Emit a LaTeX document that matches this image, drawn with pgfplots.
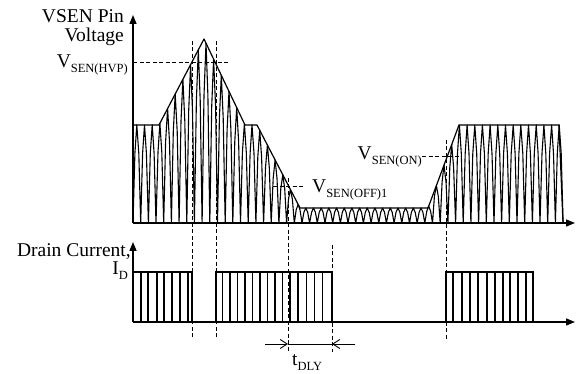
\documentclass[border=0pt]{standalone}
\usepackage{pgfplots}
\pgfplotsset{compat=1.18}
\usepackage{fontspec}
\setmainfont{Liberation Serif}
\usetikzlibrary{arrows.meta}
\newcommand{\sub}[1]{\raisebox{-4.5pt}{\fontsize{12.5}{13}\selectfont #1}}
\newcommand{\fsz}{\fontsize{19.5}{21}\selectfont}
\begin{document}
\begin{tikzpicture}
\begin{axis}[scale only axis, width=576pt, height=374pt,
  xmin=0, xmax=576, ymin=-151, ymax=223, hide axis, clip=false]
% rectified switching waveform (VSEN)
\addplot[black, line width=1.1pt, line join=round] coordinates {
(133.0,0)(134.9,69.6)(136.8,98)(138.8,69.6)
(140.7,0)(142.6,69.6)(144.5,98)(146.4,69.6)
(148.4,0)(150.3,69.6)(152.2,98)(154.1,69.6)
(156.0,0)(158.0,70.8)(159.9,99.7)(161.8,70.8)
(163.7,0)(165.6,81.2)(167.6,114.4)(169.5,81.2)
(171.4,0)(173.3,91.6)(175.2,129.0)(177.2,91.6)
(179.1,0)(181.0,102.0)(182.9,143.7)(184.8,102.0)
(186.8,0)(188.7,112.5)(190.6,158.4)(192.5,112.5)
(194.4,0)(196.4,122.9)(198.3,173.1)(200.2,122.9)
(202.1,0)(204.0,127.7)(206.0,179.9)(207.9,127.7)
(209.8,0)(211.7,116.3)(213.6,163.8)(215.6,116.3)
(217.5,0)(219.4,104.9)(221.3,147.7)(223.2,104.9)
(225.2,0)(227.1,93.4)(229.0,131.6)(230.9,93.4)
(232.8,0)(234.8,81.9)(236.7,115.4)(238.6,81.9)
(240.5,0)(242.4,70.5)(244.4,99.3)(246.3,70.5)
(248.2,0)(250.1,69.6)(252.0,98)(254.0,69.6)
(255.9,0)(257.8,65.9)(259.7,92.8)(261.6,65.9)
(263.6,0)(265.5,55.3)(267.4,77.9)(269.3,55.3)
(271.2,0)(273.2,44.8)(275.1,63.1)(277.0,44.8)
(278.9,0)(280.8,34.3)(282.8,48.3)(284.7,34.3)
(286.6,0)(288.5,23.8)(290.4,33.5)(292.4,23.8)
(294.3,0)(296.2,13.2)(298.1,18.6)(300.0,13.2)
(302.0,0)(303.9,10.7)(305.8,15)(307.7,10.7)
(309.6,0)(311.6,10.7)(313.5,15)(315.4,10.7)
(317.3,0)(319.2,10.7)(321.2,15)(323.1,10.7)
(325.0,0)(326.9,10.7)(328.8,15)(330.8,10.7)
(332.7,0)(334.6,10.7)(336.5,15)(338.4,10.7)
(340.4,0)(342.3,10.7)(344.2,15)(346.1,10.7)
(348.0,0)(350.0,10.7)(351.9,15)(353.8,10.7)
(355.7,0)(357.6,10.7)(359.6,15)(361.5,10.7)
(363.4,0)(365.3,10.7)(367.2,15)(369.2,10.7)
(371.1,0)(373.0,10.7)(374.9,15)(376.8,10.7)
(378.8,0)(380.7,10.7)(382.6,15)(384.5,10.7)
(386.4,0)(388.4,10.7)(390.3,15)(392.2,10.7)
(394.1,0)(396.0,10.7)(398.0,15)(399.9,10.7)
(401.8,0)(403.7,10.7)(405.6,15)(407.6,10.7)
(409.5,0)(411.4,10.7)(413.3,15)(415.2,10.7)
(417.2,0)(419.1,10.7)(421.0,15)(422.9,10.7)
(424.8,0)(426.8,11.9)(428.7,16.8)(430.6,11.9)
(432.5,0)(434.4,26.6)(436.4,37.4)(438.3,26.6)
(440.2,0)(442.1,41.1)(444.0,57.9)(446.0,41.1)
(447.9,0)(449.8,55.7)(451.7,78.5)(453.6,55.7)
(455.6,0)(457.5,69.6)(459.4,98)(461.3,69.6)
(463.2,0)(465.2,69.6)(467.1,98)(469.0,69.6)
(470.9,0)(472.8,69.6)(474.8,98)(476.7,69.6)
(478.6,0)(480.5,69.6)(482.4,98)(484.4,69.6)
(486.3,0)(488.2,69.6)(490.1,98)(492.0,69.6)
(494.0,0)(495.9,69.6)(497.8,98)(499.7,69.6)
(501.6,0)(503.6,69.6)(505.5,98)(507.4,69.6)
(509.3,0)(511.2,69.6)(513.2,98)(515.1,69.6)
(517.0,0)(518.9,69.6)(520.8,98)(522.8,69.6)
(524.7,0)(526.6,69.6)(528.5,98)(530.4,69.6)
(532.4,0)(534.3,69.6)(536.2,98)(538.1,69.6)
(540.0,0)(542.0,69.6)(543.9,98)(545.8,69.6)
(547.7,0)(549.6,69.6)(551.6,98)(553.5,69.6)
(555.4,0)(557.3,69.6)(559.2,98)(561.2,69.6)(563.1,0)
};
% envelope
\addplot[black, line width=1.2pt, line join=round] coordinates {
(133,98)(159,98)(204,184)(245,98)(257,98)(300,15)(428,15)(459,98)(559,98)(563,0)};
% axes of top panel
\addplot[black, line width=1.4pt, -{Triangle[length=9pt,width=7pt]}] coordinates {(133,0)(575,0)};
\addplot[black, line width=1.4pt, -{Triangle[length=9pt,width=7pt]}] coordinates {(133,0)(133,208)};
% axes of bottom panel
\addplot[black, line width=1.4pt, -{Triangle[length=9pt,width=7pt]}] coordinates {(133,-99)(575,-99)};
\addplot[black, line width=1.4pt, -{Triangle[length=9pt,width=7pt]}] coordinates {(133,-99)(133,-19)};
% drain current pulse blocks: outlines
\addplot[black, line width=1.4pt] coordinates {(133,-99)(133,-49)(192,-49)(192,-99)};
\addplot[black, line width=1.4pt] coordinates {(216,-99)(216,-49)(332,-49)(332,-99)};
\addplot[black, line width=1.4pt] coordinates {(446,-99)(446,-49)(533,-49)(533,-99)};
% switching edges inside the blocks
\addplot[black, line width=1.2pt] coordinates {
(141,-99)(141,-49)(148,-49)(148,-99)(157,-99)(157,-49)(164,-49)(164,-99)
(172,-99)(172,-49)(180,-49)(180,-99)(188,-99)(188,-49)};
\addplot[black, line width=1.2pt] coordinates {
(222.7,-99)(222.7,-49)(230,-49)(230,-99)(237.3,-99)(237.3,-49)(245,-49)(245,-99)
(252.3,-99)(252.3,-49)(260,-49)(260,-99)(267.7,-99)(267.7,-49)(275,-49)(275,-99)
(282.7,-99)(282.7,-49)(290,-49)(290,-99)(298,-99)(298,-49)(306.7,-49)(306.7,-99)
(314.3,-99)(314.3,-49)(322.3,-49)(322.3,-99)};
\addplot[black, line width=1.2pt] coordinates {
(453,-99)(453,-49)(462,-49)(462,-99)(470,-99)(470,-49)(478,-49)(478,-99)
(487,-99)(487,-49)(495,-49)(495,-99)(503,-99)(503,-49)(510,-49)(510,-99)
(518,-99)(518,-49)(526,-49)(526,-99)};
% dashed guide lines
\addplot[black, line width=1pt, dash pattern=on 4pt off 2.5pt] coordinates {(133,160)(228,160)};
\addplot[black, line width=1pt, dash pattern=on 4pt off 2.5pt] coordinates {(192,182)(192,-114)};
\addplot[black, line width=1pt, dash pattern=on 4pt off 2.5pt] coordinates {(216,182)(216,-114)};
\addplot[black, line width=1pt, dash pattern=on 4pt off 2.5pt] coordinates {(273,36)(305,36)};
\addplot[black, line width=1pt, dash pattern=on 4pt off 2.5pt] coordinates {(288,45)(288,-129)};
\addplot[black, line width=1pt, dash pattern=on 4pt off 2.5pt] coordinates {(422,66)(462,66)};
\addplot[black, line width=1pt, dash pattern=on 4pt off 2.5pt] coordinates {(446,83)(446,-117)};
\addplot[black, line width=1pt, dash pattern=on 4pt off 2.5pt] coordinates {(332,-22)(332,-129)};
% t_DLY dimension arrows
\addplot[black, line width=0.9pt, -{Straight Barb[length=7pt,width=9pt]}] coordinates {(265,-121)(288,-121)};
\addplot[black, line width=0.9pt] coordinates {(288,-121)(332,-121)};
\addplot[black, line width=0.9pt, -{Straight Barb[length=7pt,width=9pt]}] coordinates {(355,-121)(332,-121)};
% labels
\node[anchor=base east, inner sep=0pt, font=\fsz] at (axis cs:124,200) {VSEN Pin};
\node[anchor=base east, inner sep=0pt, font=\fsz] at (axis cs:124,181) {Voltage};
\node[anchor=base east, inner sep=0pt, font=\fsz] at (axis cs:128,155) {V\sub{SEN(HVP)}};
\node[anchor=base west, inner sep=0pt, font=\fsz] at (axis cs:312,30) {V\sub{SEN(OFF)1}};
\node[anchor=base east, inner sep=0pt, font=\fsz] at (axis cs:422,63) {V\sub{SEN(ON)}};
\node[anchor=base east, inner sep=0pt, font=\fsz] at (axis cs:131,-34) {Drain Current,};
\node[anchor=base east, inner sep=0pt, font=\fsz] at (axis cs:128,-52) {I\sub{D}};
\node[anchor=base west, inner sep=0pt, font=\fsz] at (axis cs:292,-143) {t\sub{DLY}};
\end{axis}
\pgfresetboundingbox
\path[use as bounding box] (0,0) rectangle (576pt,374pt);
\end{tikzpicture}
\end{document}
